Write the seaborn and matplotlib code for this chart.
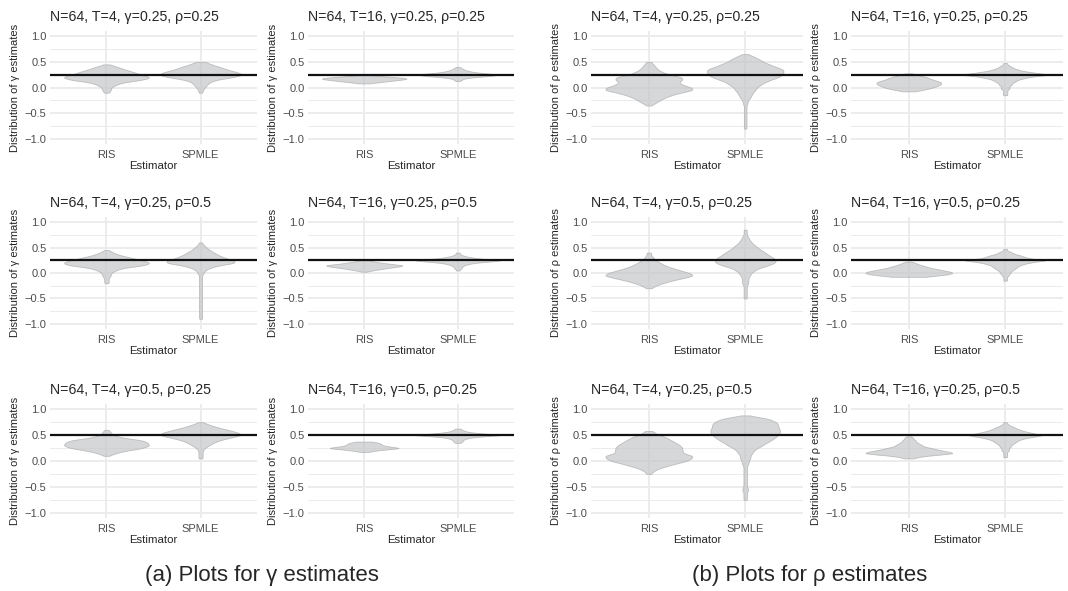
import numpy as np
import pandas as pd
import seaborn as sns
import matplotlib.pyplot as plt

# estimator categories
estimators = ['RIS', 'SPMLE']

# Each violin is described by value levels (y) and how many estimates sit
# at that level (n), read off the width of the violins in the picture.

# ---- gamma estimates, left block ----
g1_ris_y = [-0.10, -0.05, 0.0, 0.05, 0.10, 0.15, 0.20, 0.25, 0.30, 0.35, 0.40, 0.45]
g1_ris_n = [1, 2, 2, 4, 7, 16, 20, 15, 12, 8, 5, 1]
g1_spm_y = [-0.10, -0.05, 0.0, 0.05, 0.10, 0.15, 0.20, 0.25, 0.30, 0.35, 0.40, 0.45, 0.50]
g1_spm_n = [1, 1, 2, 3, 4, 7, 15, 20, 17, 12, 9, 5, 2]

g2_ris_y = [0.08, 0.10, 0.12, 0.14, 0.16, 0.18, 0.20, 0.22, 0.24]
g2_ris_n = [2, 6, 10, 14, 18, 20, 14, 8, 2]
g2_spm_y = [0.125, 0.15, 0.175, 0.20, 0.225, 0.25, 0.275, 0.30, 0.325, 0.35, 0.375, 0.40]
g2_spm_n = [1, 2, 3, 8, 16, 22, 14, 8, 5, 3, 2, 1]

g3_ris_y = [-0.20, -0.15, -0.10, -0.05, 0.0, 0.05, 0.10, 0.15, 0.20, 0.25, 0.30, 0.35, 0.40, 0.45]
g3_ris_n = [1, 1, 1, 2, 2, 4, 7, 17, 20, 16, 11, 6, 3, 1]
g3_spm_y = [-0.90, -0.85, -0.80, -0.75, -0.70, -0.65, -0.60, -0.55, -0.50, -0.45, -0.40,
            -0.35, -0.30, -0.25, -0.20, -0.15, -0.10, -0.05, 0.0, 0.05, 0.10, 0.15, 0.20,
            0.25, 0.30, 0.35, 0.40, 0.45, 0.50, 0.55, 0.60]
g3_spm_n = [1, 1, 1, 1, 1, 1, 1, 1, 1, 1, 1, 1, 1, 1, 1, 1, 1, 1, 2, 3, 6, 12, 24,
            22, 16, 12, 9, 6, 4, 2, 1]

g4_ris_y = [0.025, 0.05, 0.075, 0.10, 0.125, 0.15, 0.175, 0.20, 0.225, 0.25]
g4_ris_n = [1, 4, 8, 12, 17, 20, 14, 9, 5, 2]
g4_spm_y = [0.05, 0.075, 0.10, 0.125, 0.15, 0.175, 0.20, 0.225, 0.25, 0.275, 0.30, 0.325, 0.35, 0.375, 0.40]
g4_spm_n = [1, 1, 2, 2, 3, 5, 8, 15, 22, 13, 7, 4, 2, 1, 1]

g5_ris_y = [0.10, 0.15, 0.20, 0.25, 0.30, 0.35, 0.40, 0.45, 0.50, 0.55, 0.60]
g5_ris_n = [1, 4, 9, 17, 20, 19, 17, 7, 3, 2, 1]
g5_spm_y = [0.05, 0.10, 0.15, 0.20, 0.25, 0.30, 0.35, 0.40, 0.45, 0.50, 0.55, 0.60, 0.65, 0.70, 0.75]
g5_spm_n = [1, 1, 1, 1, 2, 4, 6, 9, 14, 20, 18, 13, 8, 4, 1]

g6_ris_y = [0.175, 0.20, 0.225, 0.25, 0.275, 0.30, 0.325, 0.35, 0.375]
g6_ris_n = [2, 6, 12, 20, 14, 10, 9, 8, 4]
g6_spm_y = [0.35, 0.375, 0.40, 0.425, 0.45, 0.475, 0.50, 0.525, 0.55, 0.575, 0.60, 0.625]
g6_spm_n = [1, 2, 2, 3, 5, 10, 20, 12, 6, 3, 2, 1]

# ---- rho estimates, right block ----
r1_ris_y = [-0.35, -0.30, -0.25, -0.20, -0.15, -0.10, -0.05, 0.0, 0.05, 0.10, 0.15, 0.20,
            0.25, 0.30, 0.35, 0.40, 0.45, 0.50]
r1_ris_n = [1, 3, 5, 7, 10, 14, 20, 19, 15, 13, 15, 15, 9, 6, 4, 3, 2, 1]
r1_spm_y = [-0.80, -0.75, -0.70, -0.65, -0.60, -0.55, -0.50, -0.45, -0.40, -0.35, -0.30,
            -0.25, -0.20, -0.15, -0.10, -0.05, 0.0, 0.05, 0.10, 0.15, 0.20, 0.25, 0.30,
            0.35, 0.40, 0.45, 0.50, 0.55, 0.60, 0.65]
r1_spm_n = [1, 1, 1, 1, 1, 1, 1, 1, 1, 1, 2, 2, 4, 5, 6, 8, 9, 12, 15, 20, 26, 29, 30,
            30, 24, 19, 14, 11, 7, 2]

r2_ris_y = [-0.075, -0.05, -0.025, 0.0, 0.025, 0.05, 0.075, 0.10, 0.125, 0.15, 0.175,
            0.20, 0.225, 0.25, 0.275]
r2_ris_n = [4, 8, 12, 15, 17, 19, 20, 20, 18, 15, 13, 11, 8, 5, 2]
r2_spm_y = [-0.15, -0.125, -0.10, -0.075, -0.05, -0.025, 0.0, 0.025, 0.05, 0.075, 0.10,
            0.125, 0.15, 0.175, 0.20, 0.225, 0.25, 0.275, 0.30, 0.325, 0.35, 0.375,
            0.40, 0.425, 0.45, 0.475]
r2_spm_n = [1, 1, 1, 1, 1, 2, 2, 2, 3, 3, 4, 5, 6, 8, 11, 15, 22, 16, 12, 8, 6, 4, 3, 2, 1, 1]

r3_ris_y = [-0.30, -0.25, -0.20, -0.15, -0.10, -0.05, 0.0, 0.05, 0.10, 0.15, 0.20, 0.25,
            0.30, 0.35, 0.40]
r3_ris_n = [1, 3, 6, 10, 15, 20, 18, 14, 10, 7, 5, 3, 2, 1, 1]
r3_spm_y = [-0.50, -0.45, -0.40, -0.35, -0.30, -0.25, -0.20, -0.15, -0.10, -0.05, 0.0,
            0.05, 0.10, 0.15, 0.20, 0.25, 0.30, 0.35, 0.40, 0.45, 0.50, 0.55, 0.60, 0.65,
            0.70, 0.75, 0.80, 0.85]
r3_spm_n = [1, 1, 1, 1, 1, 1, 2, 2, 2, 3, 4, 6, 9, 15, 19, 20, 18, 15, 13, 10, 8, 6, 4,
            3, 2, 1, 1, 1]

r4_ris_y = [-0.075, -0.05, -0.025, 0.0, 0.025, 0.05, 0.075, 0.10, 0.125, 0.15, 0.175, 0.20, 0.225]
r4_ris_n = [8, 13, 18, 20, 19, 16, 13, 10, 8, 6, 4, 3, 1]
r4_spm_y = [-0.15, -0.125, -0.10, -0.075, -0.05, -0.025, 0.0, 0.025, 0.05, 0.075, 0.10,
            0.125, 0.15, 0.175, 0.20, 0.225, 0.25, 0.275, 0.30, 0.325, 0.35, 0.375,
            0.40, 0.425, 0.45, 0.475]
r4_spm_n = [1, 1, 1, 1, 2, 2, 3, 3, 4, 5, 6, 7, 8, 10, 13, 17, 24, 16, 12, 10, 8, 5, 4, 2, 1, 1]

r5_ris_y = [-0.25, -0.20, -0.15, -0.10, -0.05, 0.0, 0.05, 0.10, 0.15, 0.20, 0.25, 0.30,
            0.35, 0.40, 0.45, 0.50, 0.55, 0.58]
r5_ris_n = [1, 2, 4, 8, 12, 17, 19, 20, 15, 15, 15, 14, 12, 10, 8, 5, 2, 1]
r5_spm_y = [-0.75, -0.70, -0.65, -0.60, -0.55, -0.50, -0.45, -0.40, -0.35, -0.30, -0.25,
            -0.20, -0.15, -0.10, -0.05, 0.0, 0.05, 0.10, 0.15, 0.20, 0.25, 0.30, 0.35,
            0.40, 0.45, 0.50, 0.55, 0.60, 0.65, 0.70, 0.75, 0.80, 0.84, 0.88]
r5_spm_n = [1, 1, 1, 1, 2, 1, 1, 1, 1, 1, 1, 1, 1, 1, 2, 2, 3, 3, 4, 5, 7, 10, 12, 15,
            17, 19, 20, 20, 19, 19, 18, 14, 7, 1]

r6_ris_y = [0.05, 0.075, 0.10, 0.125, 0.15, 0.175, 0.20, 0.225, 0.25, 0.275, 0.30, 0.325,
            0.35, 0.375, 0.40, 0.425, 0.45, 0.475]
r6_ris_n = [2, 4, 8, 14, 20, 18, 15, 12, 10, 7, 6, 5, 4, 3, 3, 2, 2, 1]
r6_spm_y = [0.075, 0.10, 0.125, 0.15, 0.175, 0.20, 0.225, 0.25, 0.275, 0.30, 0.325, 0.35,
            0.375, 0.40, 0.425, 0.45, 0.475, 0.50, 0.525, 0.55, 0.575, 0.60, 0.625, 0.65,
            0.675, 0.70, 0.725, 0.75]
r6_spm_n = [1, 1, 1, 1, 1, 2, 2, 2, 3, 3, 4, 5, 6, 7, 9, 12, 16, 20, 16, 13, 10, 8, 6, 5, 3, 2, 1, 1]

# panel titles and true parameter values (black reference line)
titles_g = ['N=64, T=4, γ=0.25, ρ=0.25', 'N=64, T=16, γ=0.25, ρ=0.25',
            'N=64, T=4, γ=0.25, ρ=0.5', 'N=64, T=16, γ=0.25, ρ=0.5',
            'N=64, T=4, γ=0.5, ρ=0.25', 'N=64, T=16, γ=0.5, ρ=0.25']
titles_r = ['N=64, T=4, γ=0.25, ρ=0.25', 'N=64, T=16, γ=0.25, ρ=0.25',
            'N=64, T=4, γ=0.5, ρ=0.25', 'N=64, T=16, γ=0.5, ρ=0.25',
            'N=64, T=4, γ=0.25, ρ=0.5', 'N=64, T=16, γ=0.25, ρ=0.5']
truth_g = [0.25, 0.25, 0.25, 0.25, 0.5, 0.5]
truth_r = [0.25, 0.25, 0.25, 0.25, 0.5, 0.5]
# kernel bandwidth per panel (T=4 panels are smoother than T=16 ones)
bw_panel = [0.03, 0.014, 0.03, 0.014, 0.03, 0.014]

sns.set_theme(style="white")
plt.rcParams['font.family'] = ['Liberation Sans', 'DejaVu Sans']

W, H = 1068, 591
fig = plt.figure(figsize=(W / 100, H / 100), dpi=100)

col_px = [(50, 257), (308, 514), (591, 803), (851, 1063)]
row_px = [(31, 144), (217, 329), (404, 518)]


def fixed_bw(kde):
    # makes bw_adjust the absolute kernel bandwidth
    return 1.0 / kde.dataset.std(ddof=1)


def panel(ax, ris, spm, title, truth, param, bw):
    vals = list(np.repeat(ris[0], ris[1])) + list(np.repeat(spm[0], spm[1]))
    labs = ['RIS'] * int(sum(ris[1])) + ['SPMLE'] * int(sum(spm[1]))
    df = pd.DataFrame({'Estimator': labs, 'value': vals})
    sns.violinplot(data=df, x='Estimator', y='value', order=estimators, cut=0,
                   density_norm='area', width=0.9, inner=None, bw_method=fixed_bw,
                   bw_adjust=bw, gridsize=200, color='#c4c6c9', saturation=1, linewidth=0.6,
                   linecolor='#a9a9a9', ax=ax, zorder=3)
    for c in ax.collections:
        c.set_alpha(0.7)
    ax.axhline(truth, color='#111111', lw=1.6, zorder=4)
    ax.set_xlim(-0.6, 1.6)
    ax.set_ylim(-1.1, 1.1)
    ax.set_yticks([-1.0, -0.5, 0.0, 0.5, 1.0])
    ax.set_yticklabels(['−1.0', '−0.5', '0.0', '0.5', '1.0'])
    ax.set_yticks([-0.75, -0.25, 0.25, 0.75], minor=True)
    ax.grid(which='major', color='#ebebeb', lw=1.3, zorder=0)
    ax.grid(which='minor', axis='y', color='#ebebeb', lw=0.7, zorder=0)
    ax.set_axisbelow(True)
    for s in ax.spines.values():
        s.set_visible(False)
    ax.tick_params(which='both', length=0, labelsize=8, labelcolor='#4d4d4d')
    ax.tick_params(axis='x', pad=4)
    ax.tick_params(axis='y', pad=2.5)
    ax.set_xlabel('Estimator', fontsize=8.2, labelpad=1)
    ax.set_ylabel(f'Distribution of {param} estimates', fontsize=8, labelpad=3)
    ax.set_title(title, loc='left', fontsize=10.2, pad=7)


gamma_sets = [((g1_ris_y, g1_ris_n), (g1_spm_y, g1_spm_n)),
              ((g2_ris_y, g2_ris_n), (g2_spm_y, g2_spm_n)),
              ((g3_ris_y, g3_ris_n), (g3_spm_y, g3_spm_n)),
              ((g4_ris_y, g4_ris_n), (g4_spm_y, g4_spm_n)),
              ((g5_ris_y, g5_ris_n), (g5_spm_y, g5_spm_n)),
              ((g6_ris_y, g6_ris_n), (g6_spm_y, g6_spm_n))]
rho_sets = [((r1_ris_y, r1_ris_n), (r1_spm_y, r1_spm_n)),
            ((r2_ris_y, r2_ris_n), (r2_spm_y, r2_spm_n)),
            ((r3_ris_y, r3_ris_n), (r3_spm_y, r3_spm_n)),
            ((r4_ris_y, r4_ris_n), (r4_spm_y, r4_spm_n)),
            ((r5_ris_y, r5_ris_n), (r5_spm_y, r5_spm_n)),
            ((r6_ris_y, r6_ris_n), (r6_spm_y, r6_spm_n))]

for i in range(6):
    r, c = divmod(i, 2)
    for block, sets, titles, truth, param in [(0, gamma_sets, titles_g, truth_g, 'γ'),
                                             (2, rho_sets, titles_r, truth_r, 'ρ')]:
        x0, x1 = col_px[block + c]
        y0, y1 = row_px[r]
        ax = fig.add_axes([x0 / W, 1 - y1 / H, (x1 - x0) / W, (y1 - y0) / H])
        panel(ax, sets[i][0], sets[i][1], titles[i], truth[i], param, bw_panel[i])

fig.text(262 / W, 1 - 576 / H, '(a) Plots for γ estimates', ha='center', va='center', fontsize=16)
fig.text(810 / W, 1 - 576 / H, '(b) Plots for ρ estimates', ha='center', va='center', fontsize=16)

fig.savefig('out.png', dpi=100)
